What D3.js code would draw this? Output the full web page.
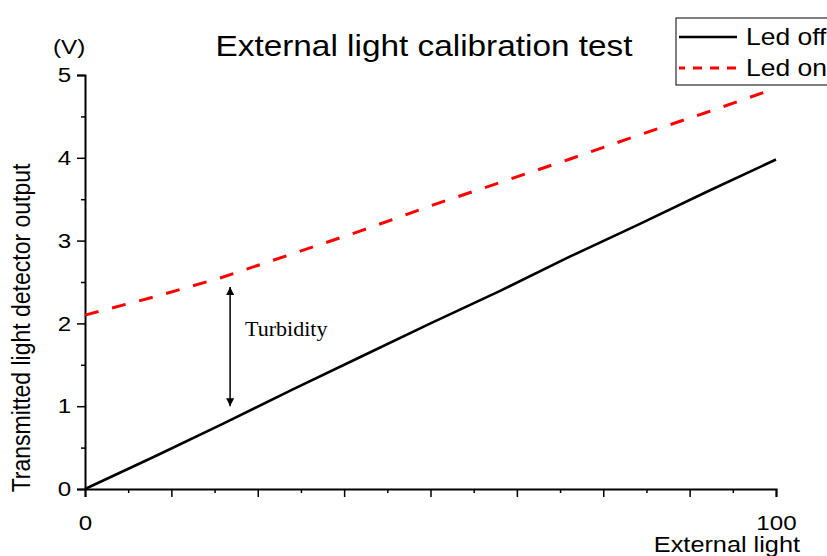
<!DOCTYPE html>
<html>
<head>
<meta charset="utf-8">
<script src="https://cdn.jsdelivr.net/npm/d3@7"></script>
<style>
  body { margin: 0; background: #fff; }
  svg { display: block; }
</style>
</head>
<body>
<div id="chart"></div>
<script>
// values
const externalLight = [0, 10, 20, 30, 40, 50, 60, 70, 80, 90, 100];
const ledOff = [0, 0.39, 0.79, 1.2, 1.6, 2.0, 2.39, 2.8, 3.19, 3.59, 3.98];
const ledOn = [2.1, 2.32, 2.56, 2.84, 3.12, 3.42, 3.7, 3.98, 4.27, 4.55, 4.84];
const seriesNames = ["Led off", "Led on"];
const yTicks = [0, 1, 2, 3, 4, 5];
const xLabelTicks = [0, 100];
const turbidity = { x: 21, from: 2.44, to: 1.0, label: "Turbidity" };

const width = 827, height = 556;
const stretch = 1.15; // text in the picture is a bit wider than tall
const sans = "'Liberation Sans', Arial, sans-serif";

const svg = d3.select("#chart")
  .append("svg")
  .attr("width", width)
  .attr("height", height);

const x = d3.scaleLinear().domain([0, 100]).range([85, 776]);
const y = d3.scaleLinear().domain([0, 5]).range([489, 75]);

const addText = (str, px, py, size, anchor, family, sx) =>
  svg.append("text")
    .text(str)
    .attr("transform", `translate(${px},${py}) scale(${sx || stretch},1)`)
    .attr("text-anchor", anchor)
    .style("font-family", family || sans)
    .style("font-size", size + "px")
    .attr("fill", "#000");

// x axis: minor ticks, then major ticks with labels at the ends
const xMinor = svg.append("g")
  .attr("transform", `translate(0,${y(0)})`)
  .call(d3.axisBottom(x).tickValues(d3.range(6.25, 100, 12.5)).tickSize(4).tickFormat(""));
const xMajor = svg.append("g")
  .attr("transform", `translate(0,${y(0)})`)
  .call(d3.axisBottom(x).tickValues(d3.range(0, 100.1, 12.5)).tickSize(8).tickPadding(18)
    .tickFormat(d => xLabelTicks.includes(d) ? d : ""));

// y axis
const yMinor = svg.append("g")
  .attr("transform", `translate(${x(0)},0)`)
  .call(d3.axisLeft(y).tickValues([0.5, 1.5, 2.5, 3.5, 4.5]).tickSize(4).tickFormat(""));
const yMajor = svg.append("g")
  .attr("transform", `translate(${x(0)},0)`)
  .call(d3.axisLeft(y).tickValues(yTicks).tickSize(8).tickPadding(4).tickFormat(d3.format("d")));

[xMinor, xMajor, yMinor, yMajor].forEach(g => {
  g.select(".domain").attr("stroke", "#000").attr("stroke-width", 2);
  g.selectAll(".tick line").attr("stroke", "#000").attr("stroke-width", 1.5);
  g.selectAll(".tick text")
    .attr("transform", `scale(${stretch},1)`)
    .style("font-family", sans)
    .style("font-size", "21px")
    .attr("fill", "#000");
});
xMinor.select(".domain").remove();
yMinor.select(".domain").remove();

// lines
const line = vals => d3.line()
  .x((d, i) => x(externalLight[i]))
  .y(d => y(d))(vals);

svg.append("path")
  .attr("d", line(ledOn))
  .attr("fill", "none")
  .attr("stroke", "#ff0000")
  .attr("stroke-width", 3)
  .attr("stroke-dasharray", "14,14");

svg.append("path")
  .attr("d", line(ledOff))
  .attr("fill", "none")
  .attr("stroke", "#000")
  .attr("stroke-width", 2.6);

// turbidity arrow
const defs = svg.append("defs");
["start", "end"].forEach(k => {
  defs.append("marker")
    .attr("id", "head-" + k)
    .attr("viewBox", "0 0 10 10")
    .attr("refX", 10).attr("refY", 5)
    .attr("markerWidth", 8).attr("markerHeight", 8)
    .attr("markerUnits", "userSpaceOnUse")
    .attr("orient", k === "start" ? "auto-start-reverse" : "auto")
    .append("path")
    .attr("d", "M0,0 L10,5 L0,10 z")
    .attr("fill", "#000");
});

svg.append("line")
  .attr("x1", x(turbidity.x)).attr("x2", x(turbidity.x))
  .attr("y1", y(turbidity.from)).attr("y2", y(turbidity.to))
  .attr("stroke", "#000")
  .attr("stroke-width", 1.5)
  .attr("marker-start", "url(#head-start)")
  .attr("marker-end", "url(#head-end)");

addText(turbidity.label, 245, 336, 21, "start", "'Liberation Serif', 'Times New Roman', serif", 1.05);

// titles
addText("External light calibration test", 424, 56, 29, "middle");
addText("(V)", 53, 54, 21, "start");
addText("External light", 800, 552, 22, "end");

svg.append("text")
  .text("Transmitted light detector output")
  .attr("transform", `translate(30,328) scale(${stretch},1) rotate(-90)`)
  .attr("text-anchor", "middle")
  .style("font-family", sans)
  .style("font-size", "23px")
  .attr("fill", "#000");

// legend
svg.append("rect")
  .attr("x", 676).attr("y", 18)
  .attr("width", 170).attr("height", 67)
  .attr("fill", "#fff")
  .attr("stroke", "#000")
  .attr("stroke-width", 1);

const legend = svg.selectAll(".legend")
  .data(seriesNames)
  .join("g")
  .attr("class", "legend")
  .attr("transform", (d, i) => `translate(0,${37 + i * 31})`);

legend.append("line")
  .attr("x1", 679).attr("x2", 737)
  .attr("stroke", (d, i) => i === 0 ? "#000" : "#ff0000")
  .attr("stroke-width", (d, i) => i === 0 ? 2.6 : 3)
  .attr("stroke-dasharray", (d, i) => i === 0 ? null : "9,8")
  .attr("stroke-dashoffset", (d, i) => i === 0 ? null : 3);

legend.append("text")
  .text(d => d)
  .attr("transform", `translate(746,8) scale(${stretch},1)`)
  .style("font-family", sans)
  .style("font-size", "23px")
  .attr("fill", "#000");
</script>
</body>
</html>
